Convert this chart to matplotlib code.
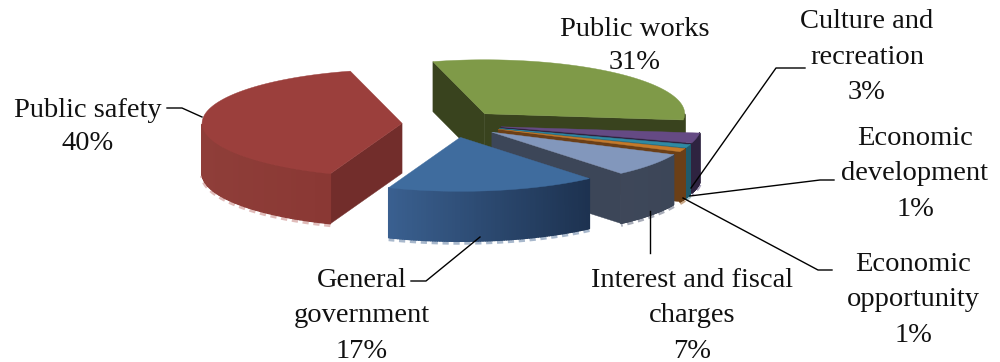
import numpy as np
import matplotlib
matplotlib.use('Agg')
import matplotlib.pyplot as plt
from matplotlib.patches import Polygon
from matplotlib.collections import PolyCollection

# Expenses by function, clockwise starting at the back of the pie
categories = ['Public works', 'Culture and\nrecreation', 'Economic\ndevelopment',
              'Economic\nopportunity', 'Interest and fiscal\ncharges',
              'General\ngovernment', 'Public safety']
shares = [31, 3, 1, 1, 7, 17, 40]

top_colors = ['#7f9a48', '#654a84', '#2f8aa3', '#c5792a', '#8297bc', '#3f6c9e', '#9b3f3c']
cut_colors = ['#39431e', '#2e2340', '#1f5a6b', '#6b3f17', '#3c4658', '#1e3352', '#722d2b']
wall_left = ['#39431e', '#2e2340', '#1f5a6b', '#6b3f17', '#3e4759', '#3a6090', '#8f3e39']
wall_right = ['#39431e', '#2e2340', '#1f5a6b', '#6b3f17', '#3c4658', '#1d3250', '#8a3834']
fringe_colors = ['#b5c2a0', '#b0a8c0', '#a0c0c8', '#c8a888', '#a8acb8', '#a8b8cc', '#e0bcba']

# Pie geometry, in figure pixels
CX, CY = 452, 124
RADIUS = 200
SQUASH = 0.27
EXPLODE = 50
DEPTH = 50
START = -15

fig = plt.figure(figsize=(10, 3.62), dpi=100)
ax = fig.add_axes([0, 0, 1, 1])
ax.set_xlim(0, 1000)
ax.set_ylim(362, 0)
ax.axis('off')


def project(r, deg, ox=0.0, oy=0.0):
    a = np.radians(deg)
    return CX + ox + r * np.sin(a), CY + oy + r * np.cos(a) * -SQUASH


def to_rgb(c):
    return np.array(matplotlib.colors.to_rgb(c))


ends = START + np.cumsum(shares) * 3.6
starts = ends - np.array(shares) * 3.6

# back slices first, red and blue go on last so they overlap the rest
for i in [0, 1, 2, 3, 4, 6, 5]:
    a0, a1 = starts[i], ends[i]
    mid = np.radians((a0 + a1) / 2)
    ox = EXPLODE * np.sin(mid)
    oy = -EXPLODE * np.cos(mid) * SQUASH
    apex = np.array([CX + ox, CY + oy])
    t = np.linspace(a0, a1, 90)
    x, y = project(RADIUS, t, ox, oy)

    # cut faces that look towards the viewer
    for ang, px, py, show in [(a0, x[0], y[0], np.sin(np.radians(a0)) < 0),
                              (a1, x[-1], y[-1], np.sin(np.radians(a1)) > 0)]:
        if show:
            ax.add_patch(Polygon([apex, (px, py), (px, py + DEPTH), (apex[0], apex[1] + DEPTH)],
                                 closed=True, fc=cut_colors[i], ec=cut_colors[i], lw=0.3))

    # outer wall, only the front half of the rim shows
    front = np.cos(np.radians(t)) < 0
    if front.sum() > 1:
        fx, fy = x[front], y[front]
        # pale dashed rim under the bottom edge
        ax.plot(fx, fy + DEPTH + 1.5, color=fringe_colors[i], lw=2.8,
                dashes=(1.6, 1.2), zorder=0.5 + i * 0.01)
        quads = []
        cols = []
        xmin, xmax = fx.min(), fx.max()
        for j in range(len(fx) - 1):
            quads.append([(fx[j], fy[j]), (fx[j + 1], fy[j + 1]),
                          (fx[j + 1], fy[j + 1] + DEPTH), (fx[j], fy[j] + DEPTH)])
            f = (fx[j] - xmin) / max(xmax - xmin, 1)
            cols.append((1 - f) * to_rgb(wall_left[i]) + f * to_rgb(wall_right[i]))
        ax.add_collection(PolyCollection(quads, facecolors=cols, edgecolors=cols, linewidths=1.0))

    # top face
    pts = np.column_stack([np.r_[apex[0], x], np.r_[apex[1], y]])
    ax.add_patch(Polygon(pts, closed=True, fc=top_colors[i], ec=top_colors[i], lw=0.3))

# labels and their leader lines
font = dict(family='Liberation Serif', fontsize=20.5, color='#111111', ha='center', va='center')
label_pos = [(635, 46), (867, 57), (915, 174), (913, 300), (692, 316), (362, 316), (88, 127)]
for name, share, (lx, ly) in zip(categories, shares, label_pos):
    spacing = 1.55 if '\n' in name else 1.42
    ax.text(lx, ly, f'{name}\n{share}%', linespacing=spacing, **font)

leaders = [
    ([167, 182, 202], [108, 108, 117]),
    ([691, 776, 805], [188, 68, 68]),
    ([690, 820, 834], [196, 180, 180]),
    ([683, 818, 832], [198, 270, 270]),
    ([650, 650], [211, 253]),
    ([480, 426, 411], [237, 281, 281]),
]
for lx, ly in leaders:
    ax.plot(lx, ly, color='black', lw=1.0, zorder=5)

fig.savefig('out.png', dpi=100, facecolor='white')
